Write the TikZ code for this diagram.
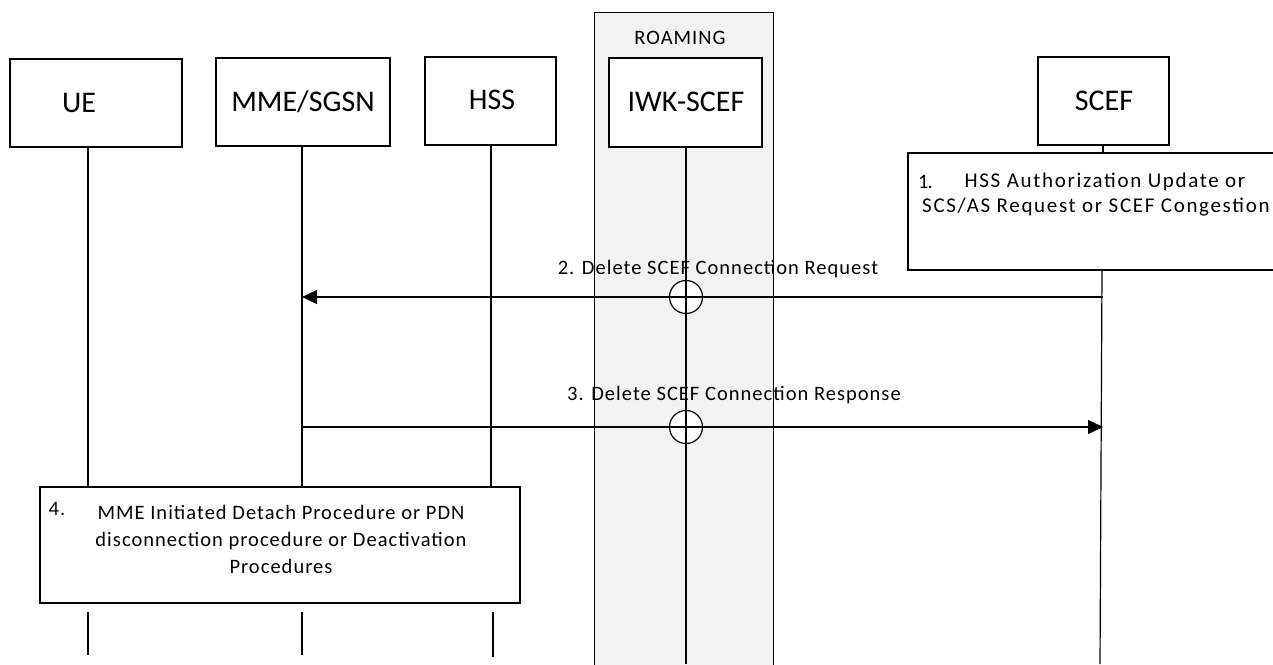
\documentclass[tikz,border=0pt]{standalone}
\usepackage{fontspec}
\setmainfont{Carlito}
\newfontfamily\lblfont[LetterSpace=5]{Carlito}
\newfontfamily\widefont[LetterSpace=8]{Carlito}
\usetikzlibrary{arrows.meta}
\definecolor{roam}{HTML}{F2F2F2}
\tikzset{
  ent/.style={draw, line width=1.2pt, fill=white, inner sep=0pt},
  enttxt/.style={font=\fontsize{30}{34}\selectfont, inner sep=0pt},
  life/.style={line width=1.2pt},
  msg/.style={line width=1.2pt, -{Triangle[length=15pt,width=14pt]}},
  lbl/.style={font=\lblfont\fontsize{20.5}{24}\selectfont, inner sep=0pt},
  widelbl/.style={font=\widefont\fontsize{21}{24}\selectfont, inner sep=0pt},
  stepbox/.style={draw, line width=1.2pt, fill=white},
  cross/.style={draw, line width=1.2pt, circle, fill=white, minimum size=33pt, inner sep=0pt},
}
\begin{document}
\begin{tikzpicture}[x=1pt,y=-1pt]
\useasboundingbox (0,0) rectangle (1273,664);
% roaming region
\node[draw, line width=1.2pt, fill=roam, minimum width=179pt, minimum height=660pt, inner sep=0pt, anchor=north west] (roaming) at (594,12) {};
\node[lbl] (roamlbl) at (680,38) {ROAMING};
% entities
\node[ent, minimum width=172pt, minimum height=88pt] (ue) at (96,103) {};
\node[enttxt] (uet) at (79,103) {UE};
\node[ent, minimum width=174pt, minimum height=88pt] (mme) at (303,102) {};
\node[enttxt] (mmet) at (303,102) {MME/SGSN};
\node[ent, minimum width=131pt, minimum height=88pt] (hss) at (490.5,101) {};
\node[enttxt] (hsst) at (492,100) {HSS};
\node[ent, minimum width=153pt, minimum height=89pt] (iwk) at (685.5,102.5) {};
\node[enttxt] (iwkt) at (686,102) {IWK-SCEF};
\node[ent, minimum width=131pt, minimum height=88pt] (scef) at (1103.5,101) {};
\node[enttxt] (sceft) at (1104,101) {SCEF};
% lifeline coordinates
\coordinate (ueA) at (88,147); \coordinate (ueB) at (88,487);
\coordinate (ueC) at (88,612); \coordinate (ueD) at (88,655);
\coordinate (mmeA) at (302,146); \coordinate (mmeB) at (302,487);
\coordinate (mmeC) at (302,612); \coordinate (mmeD) at (302,655);
\coordinate (hssA) at (491,145); \coordinate (hssB) at (491,487);
\coordinate (hssC) at (493,612); \coordinate (hssD) at (493,657);
\coordinate (iwkA) at (686,147); \coordinate (iwkB) at (686,664);
\coordinate (scefA) at (1103,145); \coordinate (scefB) at (1103,153);
\coordinate (scefC) at (1102,270); \coordinate (scefD) at (1100,664);
\draw[life] (ueA) -- (ueB); \draw[life] (ueC) -- (ueD);
\draw[life] (mmeA) -- (mmeB); \draw[life] (mmeC) -- (mmeD);
\draw[life] (hssA) -- (hssB); \draw[life] (hssC) -- (hssD);
\draw[life] (iwkA) -- (iwkB);
\draw[life] (scefA) -- (scefB); \draw[life] (scefC) -- (scefD);
% step 1 box
\draw[stepbox] (908,153) rectangle (1280,270);
\node[lbl, anchor=west] (s1n) at (918,182) {1\kern-1pt.};
\node[widelbl] (s1a) at (1105,182) {HSS Authorization Update or};
\node[widelbl, anchor=west] (s1b) at (922,207) {SCS/AS Request or SCEF Congestion};
% messages
\coordinate (m2s) at (1103,297); \coordinate (m2e) at (302,297);
\draw[msg] (m2s) -- (m2e);
\node[lbl] (m2l) at (718,269) {2. Delete SCEF Connection Request};
\coordinate (m3s) at (302,427); \coordinate (m3e) at (1103,427);
\draw[msg] (m3s) -- (m3e);
\node[lbl] (m3l) at (734,395) {3. Delete SCEF Connection Response};
% crossing circles
\node[cross] (c2) at (686,297) {};
\node[cross] (c3) at (686,427) {};
\draw[life] (c2.north) -- (c2.south); \draw[life] (c2.west) -- (c2.east);
\draw[life] (c3.north) -- (c3.south); \draw[life] (c3.west) -- (c3.east);
% step 4 box
\draw[stepbox] (40,487) rectangle (520,603);
\node[lbl] (s4n) at (57,509) {4.};
\node[lbl, align=center] (s4t) at (281,539) {MME Initiated Detach Procedure or PDN\\[3pt]disconnection procedure or Deactivation\\[3pt]Procedures};
\end{tikzpicture}
\end{document}
